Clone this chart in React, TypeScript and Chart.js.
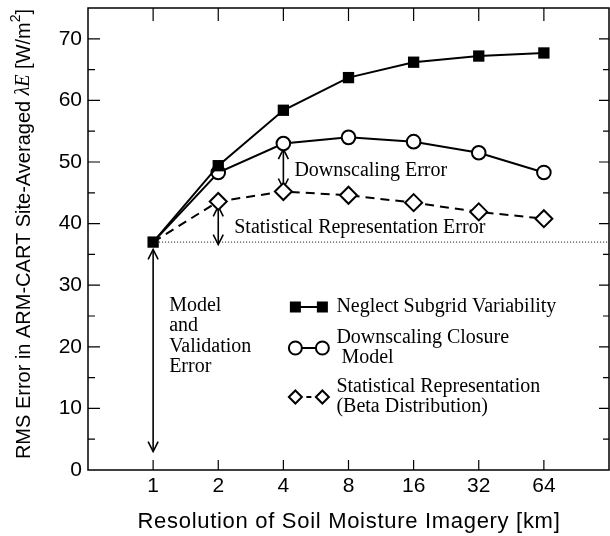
import React, { useEffect, useRef } from 'react';
import { Chart, registerables } from 'chart.js';

Chart.register(...registerables);

// ---- data ----
const resolutionKm = [1, 2, 4, 8, 16, 32, 64];
const neglectSubgrid = [37, 49.4, 58.4, 63.7, 66.2, 67.2, 67.7];
const downscalingClosure = [37, 48.3, 53.0, 54.0, 53.3, 51.5, 48.3];
const statisticalRep = [37, 43.6, 45.2, 44.6, 43.4, 41.9, 40.8];
const yTickValues = [0, 10, 20, 30, 40, 50, 60, 70];
const yMinorTicks = [5, 10, 15, 20, 25, 30, 35, 40, 45, 50, 55, 60, 65, 70];
const validationErrorLevel = 37;
// arrows: [km, from, to]
const arrowModel = [1, 35.8, 3];
const arrowDownscaling = [4, 52.1, 45.7];
const arrowStatistical = [2, 42.8, 36.6];

const legendLabels = [
  ['Neglect Subgrid Variability'],
  ['Downscaling Closure', ' Model'],
  ['Statistical Representation', '(Beta Distribution)'],
];
const modelLabel = ['Model', 'and', 'Validation', 'Error'];
const xTitle = 'Resolution of Soil Moisture Imagery [km]';

const SANS = "'Liberation Sans', Arial, Helvetica, sans-serif";
const SERIF = "'Liberation Serif', 'Times New Roman', Times, serif";

function arrowHead(ctx: CanvasRenderingContext2D, x: number, y: number, dir: number) {
  ctx.beginPath();
  ctx.moveTo(x - 5, y - dir * 10);
  ctx.lineTo(x, y);
  ctx.lineTo(x + 5, y - dir * 10);
  ctx.stroke();
}

function drawArrow(ctx: CanvasRenderingContext2D, xs: any, ys: any, a: number[]) {
  const x = xs.getPixelForValue(a[0]);
  const y1 = ys.getPixelForValue(a[1]);
  const y2 = ys.getPixelForValue(a[2]);
  ctx.save();
  ctx.strokeStyle = '#000';
  ctx.lineWidth = 1.6;
  ctx.setLineDash([]);
  ctx.beginPath();
  ctx.moveTo(x, y1);
  ctx.lineTo(x, y2);
  ctx.stroke();
  arrowHead(ctx, x, y1, -1);
  arrowHead(ctx, x, y2, 1);
  ctx.restore();
}

function marker(ctx: CanvasRenderingContext2D, kind: string, x: number, y: number) {
  ctx.save();
  ctx.setLineDash([]);
  ctx.lineWidth = 2;
  ctx.strokeStyle = '#000';
  if (kind === 'square') {
    ctx.fillStyle = '#000';
    ctx.fillRect(x - 5.5, y - 5.5, 11, 11);
  } else if (kind === 'circle') {
    ctx.fillStyle = '#fff';
    ctx.beginPath();
    ctx.arc(x, y, 6.5, 0, Math.PI * 2);
    ctx.fill();
    ctx.stroke();
  } else {
    ctx.fillStyle = '#fff';
    ctx.beginPath();
    ctx.moveTo(x - 6.5, y);
    ctx.lineTo(x, y - 6.5);
    ctx.lineTo(x + 6.5, y);
    ctx.lineTo(x, y + 6.5);
    ctx.closePath();
    ctx.fill();
    ctx.stroke();
  }
  ctx.restore();
}

const decorPlugin = {
  id: 'decor',
  beforeDatasetsDraw(chart: any) {
    const { ctx, chartArea: ca, scales } = chart;
    const xs = scales.x;
    const ys = scales.y;
    ctx.save();
    const yRef = ys.getPixelForValue(validationErrorLevel);
    ctx.strokeStyle = '#000';
    ctx.lineWidth = 1;
    ctx.setLineDash([1, 2]);
    ctx.beginPath();
    ctx.moveTo(xs.getPixelForValue(resolutionKm[0]), yRef);
    ctx.lineTo(ca.right, yRef);
    ctx.stroke();
    ctx.restore();
    drawArrow(ctx, xs, ys, arrowModel);
    drawArrow(ctx, xs, ys, arrowDownscaling);
    drawArrow(ctx, xs, ys, arrowStatistical);
  },
  afterDraw(chart: any) {
    const { ctx, chartArea: ca, scales } = chart;
    const xs = scales.x;
    const ys = scales.y;
    ctx.save();
    ctx.strokeStyle = '#000';
    ctx.fillStyle = '#000';
    ctx.setLineDash([]);
    ctx.lineWidth = 1.5;
    ctx.strokeRect(ca.left, ca.top, ca.right - ca.left, ca.bottom - ca.top);
    ctx.lineWidth = 1.2;
    ctx.beginPath();
    yMinorTicks.forEach((v) => {
      const y = ys.getPixelForValue(v);
      const major = v % 10 === 0;
      ctx.moveTo(ca.left, y);
      ctx.lineTo(ca.left + (major ? 12 : 7), y);
      ctx.moveTo(ca.right, y);
      ctx.lineTo(ca.right - (major ? 10 : 6), y);
    });
    resolutionKm.forEach((v) => {
      const x = xs.getPixelForValue(v);
      ctx.moveTo(x, ca.bottom);
      ctx.lineTo(x, ca.bottom - 10);
      ctx.moveTo(x, ca.top);
      ctx.lineTo(x, ca.top + 13);
    });
    ctx.stroke();

    ctx.font = `20px ${SERIF}`;
    ctx.textBaseline = 'middle';
    ctx.textAlign = 'left';
    ctx.fillText('Downscaling Error', xs.getPixelForValue(4) + 11, ys.getPixelForValue(48.6));
    ctx.fillText('Statistical Representation Error', xs.getPixelForValue(2) + 16, ys.getPixelForValue(39.4));
    const mx = xs.getPixelForValue(1) + 16;
    modelLabel.forEach((t, i) => {
      ctx.fillText(t, mx, ys.getPixelForValue(26.7) + i * 20.5);
    });

    const lx1 = xs.getPixelForValue(4) + 12;
    const lx2 = lx1 + 27;
    const tx = lx2 + 14;
    const rows = [
      { kind: 'square', my: 307, ty: [307] },
      { kind: 'circle', my: 348, ty: [338, 358] },
      { kind: 'diamond', my: 397, ty: [387, 407] },
    ];
    rows.forEach((r, i) => {
      ctx.save();
      ctx.lineWidth = 2;
      ctx.beginPath();
      if (r.kind === 'diamond') {
        ctx.moveTo(lx1 + 11, r.my);
        ctx.lineTo(lx2 - 11, r.my);
      } else {
        ctx.moveTo(lx1, r.my);
        ctx.lineTo(lx2, r.my);
      }
      ctx.stroke();
      ctx.restore();
      marker(ctx, r.kind, lx1, r.my);
      marker(ctx, r.kind, lx2, r.my);
      ctx.font = `20px ${SERIF}`;
      legendLabels[i].forEach((t, j) => ctx.fillText(t, tx, r.ty[j]));
    });

    // x title
    ctx.font = `22px ${SANS}`;
    ctx.textAlign = 'center';
    (ctx as any).letterSpacing = '0.7px';
    ctx.fillText(xTitle, 349, 522);
    (ctx as any).letterSpacing = '0px';

    // y title
    const runs = [
      { t: 'RMS Error in ARM-CART Site-Averaged ', f: `20px ${SANS}`, dy: 0 },
      { t: 'λ', f: `italic 20px ${SERIF}`, dy: 0 },
      { t: 'E', f: `italic 20px ${SERIF}`, dy: 0 },
      { t: ' [W/m', f: `20px ${SANS}`, dy: 0 },
      { t: '2', f: `14px ${SANS}`, dy: -8 },
      { t: ']', f: `20px ${SANS}`, dy: 0 },
    ];
    ctx.textAlign = 'left';
    let total = 0;
    runs.forEach((r) => {
      ctx.font = r.f;
      total += ctx.measureText(r.t).width;
    });
    ctx.save();
    ctx.translate(24, 234);
    ctx.rotate(-Math.PI / 2);
    let x = -total / 2;
    runs.forEach((r) => {
      ctx.font = r.f;
      ctx.fillText(r.t, x, r.dy);
      x += ctx.measureText(r.t).width;
    });
    ctx.restore();
    ctx.restore();
  },
};

export default function App() {
  const ref = useRef<HTMLCanvasElement>(null);
  useEffect(() => {
    const toPts = (arr: number[]) => resolutionKm.map((x, i) => ({ x, y: arr[i] }));
    const hideFirst = (r: number) => (c: any) => (c.dataIndex === 0 ? 0 : r);
    const chart = new Chart(ref.current as HTMLCanvasElement, {
      type: 'line',
      data: {
        datasets: [
          {
            label: 'Neglect Subgrid Variability',
            data: toPts(neglectSubgrid),
            borderColor: '#000',
            borderWidth: 2,
            pointStyle: 'rect',
            pointRadius: 8,
            pointBackgroundColor: '#000',
            pointBorderColor: '#000',
            pointBorderWidth: 0,
            tension: 0,
          },
          {
            label: 'Downscaling Closure Model',
            data: toPts(downscalingClosure),
            borderColor: '#000',
            borderWidth: 2,
            pointStyle: 'circle',
            pointRadius: hideFirst(6.8) as any,
            pointBackgroundColor: '#fff',
            pointBorderColor: '#000',
            pointBorderWidth: 2,
            tension: 0,
          },
          {
            label: 'Statistical Representation (Beta Distribution)',
            data: toPts(statisticalRep),
            borderColor: '#000',
            borderWidth: 2,
            borderDash: [9, 6],
            pointStyle: 'rectRot',
            pointRadius: hideFirst(8.5) as any,
            pointBackgroundColor: '#fff',
            pointBorderColor: '#000',
            pointBorderWidth: 2,
            tension: 0,
          },
        ],
      },
      options: {
        animation: false,
        responsive: false,
        devicePixelRatio: 1,
        layout: { autoPadding: false, padding: { left: 0, top: 8, right: 1, bottom: 0 } },
        plugins: { legend: { display: false }, tooltip: { enabled: false } },
        scales: {
          x: {
            type: 'logarithmic',
            min: 0.5,
            max: 128,
            afterBuildTicks: (s: any) => {
              s.ticks = resolutionKm.map((v) => ({ value: v }));
            },
            afterFit: (s: any) => {
              s.height = 66;
              s.paddingLeft = 0;
              s.paddingRight = 0;
            },
            grid: { display: false, drawTicks: false },
            border: { display: false },
            ticks: {
              autoSkip: false,
              maxRotation: 0,
              padding: 4,
              color: '#000',
              font: { family: SANS, size: 21 },
              callback: (v: any) => String(v),
            },
          },
          y: {
            type: 'linear',
            min: 0,
            max: 75,
            afterBuildTicks: (s: any) => {
              s.ticks = yTickValues.map((v) => ({ value: v }));
            },
            afterFit: (s: any) => {
              s.width = 88;
              s.paddingTop = 0;
              s.paddingBottom = 0;
            },
            grid: { display: false, drawTicks: false },
            border: { display: false },
            ticks: {
              padding: 6,
              color: '#000',
              font: { family: SANS, size: 21 },
            },
          },
        },
      },
      plugins: [decorPlugin],
    } as any);
    return () => chart.destroy();
  }, []);
  return (
    <div style={{ position: 'absolute', left: 0, top: 0, width: 610, height: 536, background: '#fff' }}>
      <canvas ref={ref} width={610} height={536} style={{ display: 'block' }} />
    </div>
  );
}
